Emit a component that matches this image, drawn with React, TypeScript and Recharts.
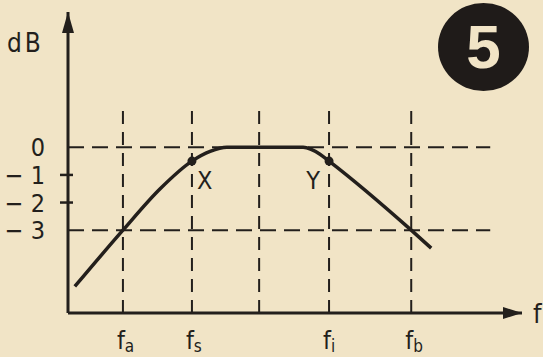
import React from 'react';
import { LineChart, Line, XAxis, YAxis, ReferenceLine, ReferenceDot } from 'recharts';

// frequency (arbitrary linear units along the f axis) and response in dB
const freq = [1.5, 12.1, 20.3, 27.3, 31.3, 35, 51.8, 55.5, 57.5, 75.6, 80];
const gain = [-5.04, -3, -1.5, -0.5, -0.15, 0, 0, -0.25, -0.5, -3, -3.65];

const xTicks = [12.1, 27.3, 57.5, 75.6];
const xTickSubs = ['a', 's', 'i', 'b'];
const yTicks = [0, -1, -2, -3];
const yTickLabels = ['0', '− 1', '− 2', '− 3'];
const yTickMarks = [-1, -2];
const gridX = [12.1, 27.3, 42.1, 57.5, 75.6];
const gridXTop = 1.55;
const gridY = [0, -3];
const gridYEnd = 93;
const markerF = [27.3, 57.5];
const markerG = [-0.5, -0.5];
const markerLabels = ['X', 'Y'];
const badge = '5';

const INK = '#231f1c';
const BG = '#f1e4c6';
const FONT = '"DejaVu Sans Condensed", "DejaVu Sans", sans-serif';

const data = freq.map((f, i) => ({ f, g: gain[i] }));

const YTick = (props: any) => {
  const { x, y, payload } = props;
  const idx = yTicks.indexOf(payload.value);
  const showMark = yTickMarks.includes(payload.value);
  return (
    <g>
      {showMark && <line x1={x - 8} x2={x + 5} y1={y} y2={y} stroke={INK} strokeWidth={2.5} />}
      <text x={x - 23} y={y + 9} textAnchor="end" fontFamily={FONT} fontSize={25} fill={INK}>
        {yTickLabels[idx]}
      </text>
    </g>
  );
};

const XTick = (props: any) => {
  const { x, y, payload } = props;
  const idx = xTicks.indexOf(payload.value);
  return (
    <text x={x - 6} y={y + 36} fontFamily={FONT} fontSize={25} fill={INK}>
      f
      <tspan dy={3} fontSize={17}>{xTickSubs[idx]}</tspan>
    </text>
  );
};

const XArrow = (props: any) => {
  const { cx, cy } = props;
  return (
    <g>
      <polygon points={`${cx},${cy} ${cx - 19},${cy - 6} ${cx - 19},${cy + 6}`} fill={INK} />
      <text x={cx + 11} y={cy + 10} fontFamily={FONT} fontSize={27} fill={INK}>f</text>
    </g>
  );
};

const YArrow = (props: any) => {
  const { cx, cy } = props;
  return (
    <g>
      <polygon points={`${cx},${cy} ${cx - 6},${cy + 21} ${cx + 6},${cy + 21}`} fill={INK} />
      <text x={cx - 61} y={cy + 40} fontFamily={FONT} fontSize={26} fill={INK} letterSpacing={3}>dB</text>
    </g>
  );
};

const makeMarker = (label: string, side: 'right' | 'left') => (props: any) => {
  const { cx, cy } = props;
  return (
    <g>
      <circle cx={cx} cy={cy} r={4.5} fill={INK} />
      <text
        x={side === 'right' ? cx + 5 : cx - 9}
        y={cy + 28}
        textAnchor={side === 'right' ? 'start' : 'end'}
        fontFamily={FONT}
        fontSize={25}
        fill={INK}
      >
        {label}
      </text>
    </g>
  );
};

export default function App() {
  return (
    <div style={{ position: 'absolute', left: 0, top: 0, width: 543, height: 357, background: BG, overflow: 'hidden' }}>
      <LineChart
        width={543}
        height={357}
        data={data}
        margin={{ top: 12, right: 21, bottom: 0, left: 0 }}
      >
        <XAxis
          type="number"
          dataKey="f"
          domain={[0, 100]}
          ticks={xTicks}
          tick={<XTick />}
          tickLine={false}
          tickSize={0}
          tickMargin={0}
          height={44}
          axisLine={{ stroke: INK, strokeWidth: 3 }}
          allowDataOverflow
          interval={0}
        />
        <YAxis
          type="number"
          domain={[-6, 4.9]}
          ticks={yTicks}
          tick={<YTick />}
          tickLine={false}
          tickSize={0}
          tickMargin={0}
          width={68}
          axisLine={{ stroke: INK, strokeWidth: 3 }}
          allowDataOverflow
          interval={0}
        />
        {gridX.map((gx) => (
          <ReferenceLine
            key={'vx' + gx}
            segment={[{ x: gx, y: -6 }, { x: gx, y: gridXTop }]}
            stroke={INK}
            strokeWidth={2}
            strokeDasharray="13 8"
            ifOverflow="visible"
          />
        ))}
        {gridY.map((gy) => (
          <ReferenceLine
            key={'hy' + gy}
            segment={[{ x: 0, y: gy }, { x: gridYEnd, y: gy }]}
            stroke={INK}
            strokeWidth={2}
            strokeDasharray="16 8"
            ifOverflow="visible"
          />
        ))}
        <Line
          type="monotone"
          dataKey="g"
          stroke={INK}
          strokeWidth={3.5}
          dot={false}
          activeDot={false}
          isAnimationActive={false}
        />
        {markerF.map((mf, i) => (
          <ReferenceDot
            key={'m' + i}
            x={mf}
            y={markerG[i]}
            ifOverflow="visible"
            shape={makeMarker(markerLabels[i], i === 0 ? 'right' : 'left')}
          />
        ))}
        <ReferenceDot x={100} y={-6} ifOverflow="visible" shape={XArrow} />
        <ReferenceDot x={0} y={4.9} ifOverflow="visible" shape={YArrow} />
      </LineChart>
      <div
        style={{
          position: 'absolute',
          left: 438,
          top: 3,
          width: 91,
          height: 88,
          borderRadius: '50%',
          background: '#1f1b19',
          color: BG,
          fontFamily: '"Liberation Sans", Arial, sans-serif',
          fontWeight: 'bold',
          fontSize: 62,
          lineHeight: '88px',
          textAlign: 'center',
        }}
      >
        {badge}
      </div>
    </div>
  );
}
